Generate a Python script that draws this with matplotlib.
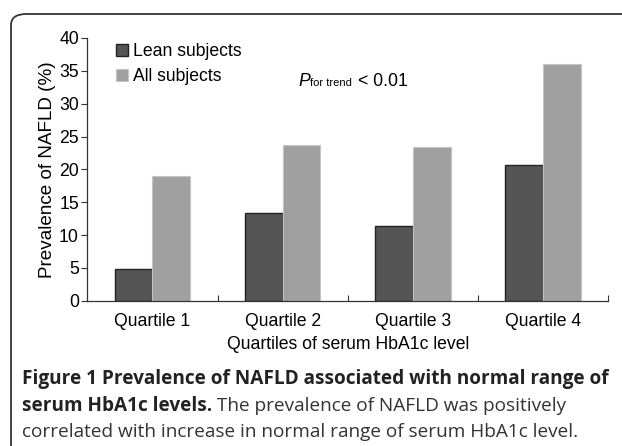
import matplotlib
matplotlib.use("Agg")
from matplotlib import pyplot as plt
from matplotlib.patches import FancyBboxPatch
import numpy as np

categories = ["Quartile 1", "Quartile 2", "Quartile 3", "Quartile 4"]
lean_subjects = [4.9, 13.3, 11.3, 20.6]
all_subjects = [19.0, 23.7, 23.4, 36.0]
y_ticks = [0, 5, 10, 15, 20, 25, 30, 35, 40]

caption_bold_1 = "Figure 1 Prevalence of NAFLD associated with normal range of"
caption_bold_2 = "serum HbA1c levels."
caption_reg_2 = " The prevalence of NAFLD was positively"
caption_reg_3 = "correlated with increase in normal range of serum HbA1c level."

W, H = 622, 446
plt.rcParams['font.family'] = ['Liberation Sans', 'DejaVu Sans']
fig = plt.figure(figsize=(W / 100, H / 100), dpi=100)

# rounded frame round the whole figure (runs off right and bottom edges)
frame = FancyBboxPatch((11 / W, -0.2), 1.2, 1 - 14 / H + 0.2,
                       boxstyle="round,pad=0,rounding_size=0.025",
                       transform=fig.transFigure, fill=False,
                       edgecolor='#333333', linewidth=1.3)
fig.patches.append(frame)

ax = fig.add_axes([87.3 / W, 1 - 300.7 / H, (608.3 - 87.3) / W, (300.7 - 38) / H])

x = np.arange(len(categories))
w = 0.29
ax.bar(x - w / 2, lean_subjects, w, color='#555555', edgecolor='#222222',
       linewidth=1.0, label='Lean subjects')
ax.bar(x + w / 2, all_subjects, w, color='#a0a0a0', edgecolor='#c4c4c4',
       linewidth=0.8, label='All subjects')

ax.set_xlim(-0.5, 3.5)
ax.set_ylim(0, 40)
ax.set_yticks(y_ticks)
ax.set_xticks(x)
ax.set_xticklabels(categories)
ax.set_xticks(x + 0.5, minor=True)
ax.tick_params(axis='x', which='major', length=0, pad=9, labelsize=12.7)
ax.tick_params(axis='x', which='minor', direction='in', length=4, width=0.8, color='#333333')
ax.tick_params(axis='y', length=4, width=0.8, pad=2, labelsize=12.7, color='#333333')
for s in ['top', 'right']:
    ax.spines[s].set_visible(False)
for s in ['left', 'bottom']:
    ax.spines[s].set_linewidth(0.9)
    ax.spines[s].set_color('#333333')

ax.set_ylabel('Prevalence of NAFLD (%)', fontsize=13.6, labelpad=2)
ax.set_xlabel('Quartiles of serum HbA1c level', fontsize=12.7, labelpad=4)

ax.legend(loc='upper left', bbox_to_anchor=(0.035, 1.02), frameon=False,
          fontsize=12.7, handlelength=0.68, handleheight=0.68,
          handletextpad=0.3, labelspacing=0.45, borderaxespad=0.2)

# P for trend annotation
ax.text(0.405, 0.817, 'P', transform=ax.transAxes, fontsize=12.7,
        style='italic', va='baseline')
ax.text(0.4275, 0.817, 'for trend', transform=ax.transAxes, fontsize=8,
        va='baseline')
ax.text(0.519, 0.817, '< 0.01', transform=ax.transAxes, fontsize=12.7,
        va='baseline')

# caption
cap_font = ['Open Sans', 'DejaVu Sans']
cx = 22 / W
fs = 13.7
fig.text(cx, 1 - 379 / H, caption_bold_1, family=cap_font, fontsize=fs,
         fontweight='bold', va='center', color='#222222')
t2 = fig.text(cx, 1 - 406 / H, caption_bold_2, family=cap_font, fontsize=fs,
              fontweight='bold', va='center', color='#222222')
fig.canvas.draw()
bb = t2.get_window_extent()
fig.text(bb.x1 / W, 1 - 406 / H, caption_reg_2, family=cap_font, fontsize=fs,
         va='center', color='#333333')
fig.text(cx, 1 - 432 / H, caption_reg_3, family=cap_font, fontsize=fs,
         va='center', color='#333333')

fig.savefig('out.png', dpi=100)
